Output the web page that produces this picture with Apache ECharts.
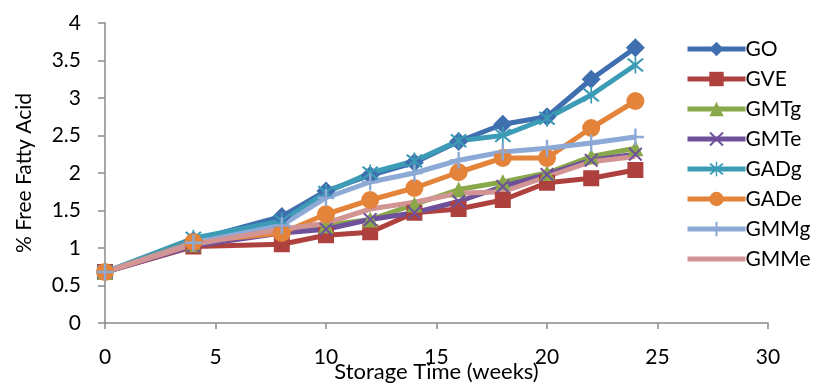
<!DOCTYPE html>
<html><head><meta charset="utf-8">
<script src="https://cdn.jsdelivr.net/npm/echarts@6/dist/echarts.min.js"></script>
<style>html,body{margin:0;padding:0;background:#fff}#c{width:817px;height:384px}</style>
</head><body><div id="c"></div>
<script>
const weeks = [0,4,8,10,12,14,16,18,20,22,24];
const GO   = [0.68,1.10,1.42,1.76,1.97,2.14,2.42,2.65,2.75,3.25,3.67];
const GVE  = [0.68,1.02,1.05,1.17,1.21,1.47,1.52,1.64,1.87,1.93,2.04];
const GMTg = [0.68,1.05,1.25,1.30,1.38,1.58,1.78,1.88,2.00,2.22,2.33];
const GMTe = [0.68,1.03,1.20,1.25,1.38,1.47,1.62,1.82,1.98,2.17,2.25];
const GADg = [0.68,1.13,1.36,1.74,2.00,2.16,2.43,2.50,2.73,3.04,3.44];
const GADe = [0.68,1.08,1.20,1.45,1.64,1.80,2.01,2.20,2.20,2.60,2.96];
const GMMg = [0.68,1.07,1.30,1.67,1.88,2.00,2.17,2.28,2.33,2.40,2.48];
const GMMe = [0.68,1.05,1.25,1.33,1.52,1.61,1.73,1.75,1.95,2.15,2.22];
const seriesNames = ['GO','GVE','GMTg','GMTe','GADg','GADe','GMMg','GMMe'];
const seriesData = [GO,GVE,GMTg,GMTe,GADg,GADe,GMMg,GMMe];
const colors = ['#3F6FAF','#AE403D','#89A84A','#6F519B','#3C9BB5','#E3843A','#8DA9D6','#D39494'];
const xPath = 'path://M0,1 L1,0 L5,4 L9,0 L10,1 L6,5 L10,9 L9,10 L5,6 L1,10 L0,9 L4,5 Z';
const astPath = 'path://M0,1 L1,0 L5,4 L9,0 L10,1 L6,5 L10,9 L9,10 L5,6 L1,10 L0,9 L4,5 Z M4.5,-1 L5.5,-1 L5.5,11 L4.5,11 Z';
const plusPath = 'path://M4.3,0 L5.7,0 L5.7,4.3 L10,4.3 L10,5.7 L5.7,5.7 L5.7,10 L4.3,10 L4.3,5.7 L0,5.7 L0,4.3 L4.3,4.3 Z';
const symbols = ['diamond','rect','triangle',xPath,astPath,'circle',plusPath,'none'];
const sizes = [19,16,16,14,17,18,17,0];
const FONT = 'Lato';
const chart = echarts.init(document.getElementById('c'));
chart.setOption({
  animation:false,
  textStyle:{fontFamily:FONT},
  grid:{left:105,top:23,right:49,bottom:61,containLabel:false,outerBoundsMode:'none'},
  legend:{
    orient:'vertical', left:680, top:33, itemWidth:58, itemHeight:18, itemGap:8,
    textStyle:{fontSize:21, color:'#000', fontFamily:FONT, lineHeight:22, padding:[0,0,0,-5]},
    lineStyle:{width:5},
    data:seriesNames.map(n => n==='GMMe' ? {name:n, itemStyle:{opacity:0}} : {name:n})
  },
  xAxis:{
    type:'value', min:0, max:30, interval:5,
    name:'Storage Time (weeks)', nameLocation:'middle', nameGap:38, nameMoveOverlap:false,
    nameTextStyle:{fontSize:22, color:'#000', fontFamily:FONT},
    axisLine:{show:true, lineStyle:{color:'#8a8a8a', width:1.5}},
    axisTick:{show:true, length:6, lineStyle:{color:'#8a8a8a', width:1.5}},
    axisLabel:{fontSize:21, color:'#000', margin:24, fontFamily:FONT},
    splitLine:{show:false}
  },
  yAxis:{
    type:'value', min:0, max:4, interval:0.5,
    name:'% Free Fatty Acid', nameLocation:'middle', nameGap:70, nameRotate:90, nameMoveOverlap:false,
    nameTextStyle:{fontSize:21, color:'#000', fontFamily:FONT},
    axisLine:{show:true, lineStyle:{color:'#8a8a8a', width:1.5}},
    axisTick:{show:true, length:7, lineStyle:{color:'#8a8a8a', width:1.5}},
    axisLabel:{fontSize:21, color:'#000', margin:24, fontFamily:FONT},
    splitLine:{show:false}
  },
  series: seriesNames.map((n,i)=>({
    name:n, type:'line',
    data: weeks.map((w,j)=>[w, seriesData[i][j]]),
    symbol:symbols[i], symbolSize:sizes[i], showSymbol: symbols[i]!=='none',
    lineStyle:{width:5, color:colors[i]},
    itemStyle:{color:colors[i]},
    emphasis:{disabled:true}
  }))
});
</script></body></html>
